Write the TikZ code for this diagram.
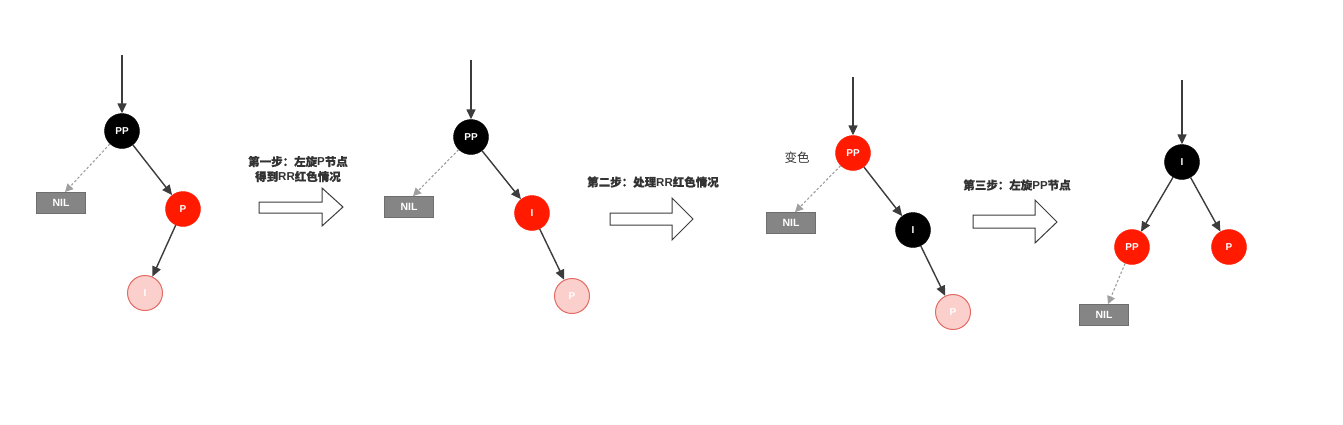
\documentclass[tikz,border=0pt]{standalone}
\usepackage{fontspec}
\setmainfont{Liberation Sans}
\newfontfamily\cjk[FakeBold=0.7]{Noto Sans CJK SC}
\newfontfamily\cjkn{Noto Sans CJK SC}
\usetikzlibrary{arrows.meta}
\definecolor{redc}{HTML}{FF1A00}
\definecolor{litec}{HTML}{FBCFCB}
\definecolor{litebd}{HTML}{E46A64}
\definecolor{nilc}{HTML}{858585}
\definecolor{nilbd}{HTML}{6E6E6E}
\definecolor{edgec}{HTML}{3C3C3C}
\definecolor{txtc}{HTML}{333333}
\newcommand{\zh}[1]{{\cjk\bfseries #1}}
\tikzset{
  rb/.style={circle, minimum size=35pt, inner sep=0pt, text=white,
    font=\bfseries\fontsize{10}{10}\selectfont},
  blk/.style={rb, fill=black, draw=black},
  rd/.style={rb, fill=redc, draw=redc},
  lite/.style={rb, fill=litec, draw=litebd, line width=1pt},
  nil/.style={rectangle, fill=nilc, draw=nilbd, line width=0.8pt, minimum width=49pt,
    minimum height=21pt, inner sep=0pt, text=white, font=\bfseries\fontsize{10.5}{10.5}\selectfont},
  edge/.style={draw=edgec, line width=1.4pt, -{Triangle[length=10pt,width=9pt]}},
  dedge/.style={draw=gray!75, line width=1.1pt, dash pattern=on 2.5pt off 2pt,
    -{Triangle[length=8pt,width=8pt]}},
  lbl/.style={text=txtc, font=\bfseries\fontsize{11.5}{15}\selectfont, align=center},
  plain/.style={text=txtc, font=\cjkn\fontsize{12.5}{15}\selectfont},
  barrow/.style={draw=edgec, line width=1pt, fill=white, line join=miter},
}
\begin{document}
\begin{tikzpicture}[x=1pt,y=-1pt]
\useasboundingbox (0,0) rectangle (1343,424);
\fill[white] (0,0) rectangle (1343,424);

% ---- tree 1
\coordinate (t1) at (122,55);
\node[blk] (pp1) at (122,131) {PP};
\node[nil] (nil1) at (61,203) {NIL};
\node[rd] (p1) at (183,209) {P};
\node[lite] (i1) at (145,293) {I};
\draw[edge] (t1) -- (pp1);
\draw[dedge] (pp1) -- ([xshift=4pt]nil1.north);
\draw[edge] (pp1) -- (p1);
\draw[edge] (p1) -- (i1);

\node[lbl] (s1) at (298,169) {\zh{第一步：左旋}P\zh{节点}\\\zh{得到}RR\zh{红色情况}};
\draw[barrow] (259,202) -- (322,202) -- (322,188) -- (343,207) -- (322,226) -- (322,213) -- (259,213) -- cycle;

% ---- tree 2
\coordinate (t2) at (471,60);
\node[blk] (pp2) at (471,137) {PP};
\node[nil] (nil2) at (409,207) {NIL};
\node[rd] (i2) at (532,213) {I};
\node[lite] (p2) at (572,296) {P};
\draw[edge] (t2) -- (pp2);
\draw[dedge] (pp2) -- ([xshift=4pt]nil2.north);
\draw[edge] (pp2) -- (i2);
\draw[edge] (i2) -- (p2);

\node[lbl] (s2) at (653,182) {\zh{第二步：处理}RR\zh{红色情况}};
\draw[barrow] (610,213) -- (672,213) -- (672,198) -- (693,219) -- (672,240) -- (672,225) -- (610,225) -- cycle;

% ---- tree 3
\coordinate (t3) at (853,77);
\node[rd] (pp3) at (853,153) {PP};
\node[plain] (bs) at (797,158) {变色};
\node[nil] (nil3) at (791,223) {NIL};
\node[blk] (i3) at (913,230) {I};
\node[lite] (p3) at (953,312) {P};
\draw[edge] (t3) -- (pp3);
\draw[dedge] (pp3) -- ([xshift=4pt]nil3.north);
\draw[edge] (pp3) -- (i3);
\draw[edge] (i3) -- (p3);

\node[lbl] (s3) at (1017,185) {\zh{第三步：左旋}PP\zh{节点}};
\draw[barrow] (973,215) -- (1035,215) -- (1035,200) -- (1057,222) -- (1035,243) -- (1035,228) -- (973,228) -- cycle;

% ---- tree 4
\coordinate (t4) at (1182,80);
\node[blk] (i4) at (1182,162) {I};
\node[rd] (pp4) at (1132,247) {PP};
\node[rd] (p4) at (1229,247) {P};
\node[nil] (nil4) at (1104,315) {NIL};
\draw[edge] (t4) -- (i4);
\draw[edge] (i4) -- (pp4);
\draw[edge] (i4) -- (p4);
\draw[dedge] (pp4) -- ([xshift=4pt]nil4.north);
\end{tikzpicture}
\end{document}
